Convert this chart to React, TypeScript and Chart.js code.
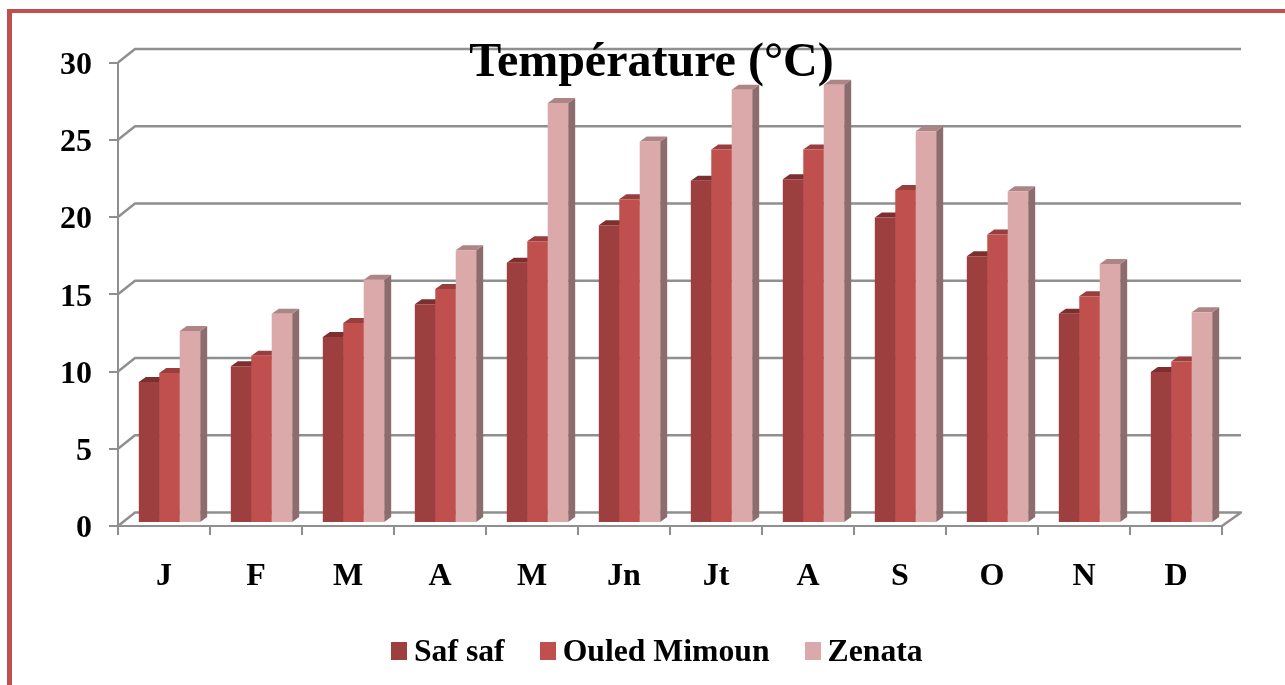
import React, { useEffect, useRef } from "react";
import { Chart, registerables } from "chart.js";

Chart.register(...registerables);

const months = ["J", "F", "M", "A", "M", "Jn", "Jt", "A", "S", "O", "N", "D"];
const safSaf = [9.13, 10.14, 12.04, 14.16, 16.85, 19.27, 22.16, 22.25, 19.77, 17.26, 13.55, 9.77];
const ouledMimoun = [9.71, 10.83, 12.95, 15.15, 18.23, 20.95, 24.17, 24.17, 21.55, 18.67, 14.67, 10.45];
const zenata = [12.43, 13.55, 15.75, 17.65, 27.18, 24.69, 28.05, 28.37, 25.35, 21.47, 16.76, 13.64];
const seriesNames = ["Saf saf", "Ouled Mimoun", "Zenata"];
const seriesValues = [safSaf, ouledMimoun, zenata];
const frontColors = ["#9d3f3e", "#c0504d", "#dba9a9"];
const topColors = ["#7c2f2e", "#983e3c", "#ad8585"];
const sideColors = ["#7c3333", "#983e3c", "#8c6c6c"];

const FONT = '"Liberation Serif", serif';
const GRID = "#8f8f8f";
const WALL_DX = 17;
const WALL_DY = 13.5;
const BAR_DX = 5.5;
const BAR_DY = 3;
const DEPTH_X = 7;
const DEPTH_Y = 5;

const box3d = {
  id: "box3d",
  beforeDraw(chart: any) {
    const { ctx } = chart;
    const { left, right, bottom } = chart.chartArea;
    const y = chart.scales.y;
    ctx.save();
    ctx.strokeStyle = GRID;
    ctx.lineWidth = 2.4;
    ctx.lineJoin = "round";
    y.ticks.forEach((t: any) => {
      const py = y.getPixelForValue(t.value);
      ctx.beginPath();
      ctx.moveTo(left, py);
      ctx.lineTo(left + WALL_DX, py - WALL_DY);
      ctx.lineTo(right + 19, py - WALL_DY);
      if (t.value === 0) ctx.lineTo(right, bottom);
      ctx.stroke();
    });
    ctx.restore();
  },
  beforeDatasetsDraw(chart: any) {
    const { ctx } = chart;
    ctx.save();
    ctx.translate(BAR_DX, -BAR_DY);
    chart.data.datasets.forEach((_: any, i: number) => {
      chart.getDatasetMeta(i).data.forEach((el: any) => {
        const l = el.x - el.width / 2;
        const r = el.x + el.width / 2;
        ctx.fillStyle = sideColors[i];
        ctx.beginPath();
        ctx.moveTo(r, el.y);
        ctx.lineTo(r + DEPTH_X, el.y - DEPTH_Y);
        ctx.lineTo(r + DEPTH_X, el.base - DEPTH_Y);
        ctx.lineTo(r, el.base);
        ctx.closePath();
        ctx.fill();
        ctx.fillStyle = topColors[i];
        ctx.beginPath();
        ctx.moveTo(l, el.y);
        ctx.lineTo(l + DEPTH_X, el.y - DEPTH_Y);
        ctx.lineTo(r + DEPTH_X, el.y - DEPTH_Y);
        ctx.lineTo(r, el.y);
        ctx.closePath();
        ctx.fill();
      });
    });
  },
  afterDatasetsDraw(chart: any) {
    chart.ctx.restore();
  },
};

export default function App() {
  const ref = useRef<HTMLCanvasElement>(null);
  useEffect(() => {
    const chart = new Chart(ref.current as HTMLCanvasElement, {
      type: "bar",
      data: {
        labels: months,
        datasets: seriesNames.map((name, i) => ({
          label: name,
          data: seriesValues[i],
          backgroundColor: frontColors[i],
          borderWidth: 0,
          categoryPercentage: 0.667,
          barPercentage: 1,
          clip: false,
        })),
      },
      options: {
        responsive: false,
        animation: false,
        layout: { padding: { left: 81, right: 63, top: 62.5, bottom: 109 } },
        plugins: {
          legend: { display: false },
          tooltip: { enabled: false },
          title: {
            display: true,
            text: "Température (°C)",
            color: "#000",
            font: { family: FONT, size: 48, weight: "bold", lineHeight: 1.2 },
            padding: { top: -28, bottom: -29.6 },
          },
        },
        scales: {
          x: {
            afterFit: (s: any) => {
              s.height = 50;
              s._computeLabelArea = () => undefined;
            },
            border: { color: GRID, width: 2 },
            grid: { drawOnChartArea: false, drawTicks: true, tickLength: 9, color: GRID, lineWidth: 2 },
            ticks: {
              color: "#000",
              padding: 23,
              maxRotation: 0,
              autoSkip: false,
              font: { family: FONT, size: 32, weight: "bold" },
            },
          },
          y: {
            min: 0,
            max: 30,
            afterFit: (s: any) => {
              s.width = 37;
              s._computeLabelArea = () => undefined;
            },
            border: { color: GRID, width: 2 },
            grid: { drawOnChartArea: false, drawTicks: true, tickLength: 9, color: GRID, lineWidth: 2 },
            ticks: {
              stepSize: 5,
              color: "#000",
              padding: 17,
              labelOffset: 3,
              font: { family: FONT, size: 32, weight: "bold" },
            },
          },
        },
      },
      plugins: [box3d],
    } as any);
    return () => chart.destroy();
  }, []);

  return (
    <div style={{ position: "fixed", left: 0, top: 0, width: 1285, height: 685, background: "#fff", overflow: "hidden" }}>
      <div
        style={{
          position: "absolute",
          left: 7,
          top: 9,
          width: 1290,
          height: 690,
          borderTop: "4px solid #c0504d",
          borderLeft: "5px solid #c0504d",
        }}
      />
      <canvas ref={ref} width={1285} height={685} style={{ position: "absolute", left: 0, top: 0, display: "block" }} />
      <div
        style={{
          position: "absolute",
          left: 391,
          top: 633,
          height: 36,
          display: "flex",
          alignItems: "center",
          font: `bold 31.7px ${FONT}`,
          color: "#000",
          whiteSpace: "nowrap",
        }}
      >
        {seriesNames.map((name, i) => (
          <span key={name} style={{ display: "flex", alignItems: "center", marginRight: 35 }}>
            <span style={{ width: 16, height: 18, background: frontColors[i], marginRight: 7 }} />
            {name}
          </span>
        ))}
      </div>
    </div>
  );
}
